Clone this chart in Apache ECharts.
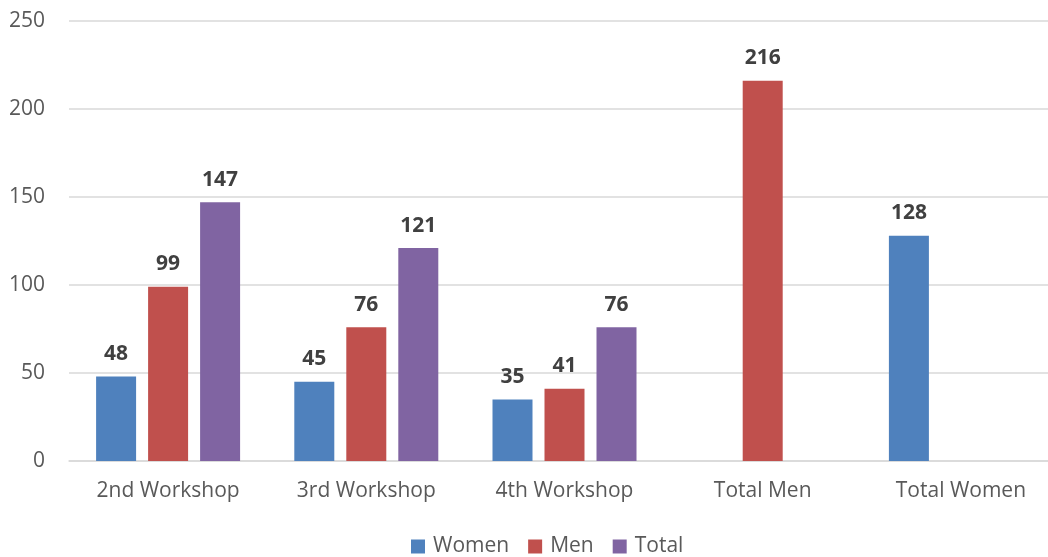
<!DOCTYPE html>
<html><head><meta charset="utf-8">
<script src="https://cdn.jsdelivr.net/npm/echarts@6/dist/echarts.min.js"></script>
<style>html,body{margin:0;padding:0;background:#fff}#c{width:1048px;height:557px}</style>
</head><body><div id="c"></div>
<script>
var categories = ['2nd Workshop', '3rd Workshop', '4th Workshop', 'Total Men', 'Total Women'];
var women = [48, 45, 35, null, 128];
var men = [99, 76, 41, 216, null];
var total = [147, 121, 76, null, null];
var yTicks = {min: 0, max: 250, interval: 50};

var FONT = 'Open Sans';
var chart = echarts.init(document.getElementById('c'), null, {renderer: 'canvas'});
function ser(name, data, color) {
  return {
    name: name, type: 'bar', data: data, barWidth: 40, barGap: '30%',
    itemStyle: {color: color},
    label: {show: true, position: 'top', distance: 12, fontFamily: FONT, fontSize: 21, fontWeight: 'bold', color: '#404040'}
  };
}
chart.setOption({
  animation: false,
  textStyle: {fontFamily: FONT},
  grid: {left: 69, right: -12, top: 21, bottom: 96, containLabel: false, outerBoundsMode: 'none'},
  legend: {
    left: 411, top: 536, padding: 0, itemWidth: 14, itemHeight: 14, itemGap: 19, icon: 'rect',
    textStyle: {fontFamily: FONT, fontSize: 21, color: '#595959', padding: [0, 0, 0, 3]},
    data: ['Women', 'Men', 'Total']
  },
  xAxis: {
    type: 'category', data: categories,
    axisLine: {lineStyle: {color: '#d9d9d9', width: 1.5}},
    axisTick: {show: false},
    axisLabel: {fontFamily: FONT, fontSize: 21, color: '#595959', margin: 20}
  },
  yAxis: {
    type: 'value', min: yTicks.min, max: yTicks.max, interval: yTicks.interval,
    axisLine: {show: false}, axisTick: {show: false},
    splitLine: {lineStyle: {color: '#d9d9d9', width: 1.5}},
    axisLabel: {fontFamily: FONT, fontSize: 21, color: '#595959', margin: 24}
  },
  series: [ser('Women', women, '#4F81BD'), ser('Men', men, '#C0504D'), ser('Total', total, '#8064A2')]
});
</script></body></html>
